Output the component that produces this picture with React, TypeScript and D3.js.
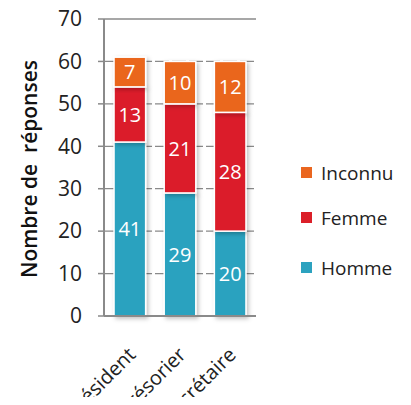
import React from "react";
import * as d3 from "d3";

const categories = ["Président", "Trésorier", "Secrétaire"];
const seriesNames = ["Homme", "Femme", "Inconnu"];
const homme = [41, 29, 20];
const femme = [13, 21, 28];
const inconnu = [7, 10, 12];
const yTicks = [0, 10, 20, 30, 40, 50, 60, 70];
const colors = ["#2CA2BF", "#DB1F29", "#EA661F"];

export default function App() {
  const W = 411, H = 397;
  const left = 104, right = 256, top = 19, bottom = 316;
  const x = d3.scaleBand().domain(categories).range([left, right]).paddingInner(0.37).paddingOuter(0.2);
  const y = d3.scaleLinear().domain([0, 70]).range([bottom, top]);
  const rows = categories.map((c, i) => ({ cat: c, Homme: homme[i], Femme: femme[i], Inconnu: inconnu[i] }));
  const stacked = d3.stack<any>().keys(seriesNames)(rows);
  const font = "'Open Sans', 'DejaVu Sans', sans-serif";
  const legendOrder = [2, 1, 0];
  const legendY = [173, 218, 268];
  return (
    <svg width={W} height={H} style={{ position: "absolute", left: 0, top: 0, overflow: "hidden" }}>
      <defs>
        <filter id="sh" x="-30%" y="-10%" width="160%" height="130%">
          <feDropShadow dx="2" dy="2" stdDeviation="2" floodColor="#000" floodOpacity="0.25" />
        </filter>
      </defs>
      <rect width={W} height={H} fill="#fff" />
      {yTicks.map((t) => (
        <g key={t}>
          {t > 0 && (
            <line x1={left} x2={right} y1={y(t)} y2={y(t)} stroke="#8a8a8a" strokeWidth={1.3}
              strokeDasharray={t === 70 ? undefined : "14,3"} />
          )}
          <line x1={left - 6} x2={left} y1={y(t)} y2={y(t)} stroke="#8a8a8a" strokeWidth={1.5} />
          <text x={82} y={y(t)} dy="0.35em" textAnchor="end" fontFamily={font} fontSize={21} fill="#222">{t}</text>
        </g>
      ))}
      {stacked.map((s, si) => (
        <g key={s.key}>
          {s.map((d, i) => (
            <g key={i}>
              <rect x={x(categories[i])!} width={x.bandwidth()} y={y(d[1])} height={y(d[0]) - y(d[1])}
                fill={colors[si]} stroke="#fff" strokeWidth={1.5} filter="url(#sh)" />
            </g>
          ))}
        </g>
      ))}
      {stacked.map((s, si) => (
        <g key={s.key + "l"}>
          {s.map((d, i) => (
            <text key={i} x={x(categories[i])! + x.bandwidth() / 2} y={(y(d[0]) + y(d[1])) / 2} dy="0.36em"
              textAnchor="middle" fontFamily={font} fontSize={20} fill="#fff">{d[1] - d[0]}</text>
          ))}
        </g>
      ))}
      <line x1={left} x2={left} y1={top} y2={bottom} stroke="#8a8a8a" strokeWidth={2} />
      <line x1={left} x2={right} y1={bottom} y2={bottom} stroke="#8a8a8a" strokeWidth={2} />
      {categories.map((c) => (
        <text key={c} transform={`translate(${x(c)! + x.bandwidth() / 2 + 7},${bottom + 40}) rotate(-45)`}
          textAnchor="end" fontFamily={font} fontSize={20} fill="#222">{c}</text>
      ))}
      <text transform={`translate(37,169) rotate(-90)`} textAnchor="middle" fontFamily={font} fontWeight={600}
        fontSize={21} fill="#111" style={{ whiteSpace: "pre" }}>{"Nombre de  réponses"}</text>
      {legendOrder.map((si, k) => (
        <g key={si}>
          <rect x={301} y={legendY[k] - 6} width={11} height={11} fill={colors[si]} />
          <text x={321} y={legendY[k]} dy="0.36em" fontFamily={font} fontSize={19} fill="#222">{seriesNames[si]}</text>
        </g>
      ))}
    </svg>
  );
}
